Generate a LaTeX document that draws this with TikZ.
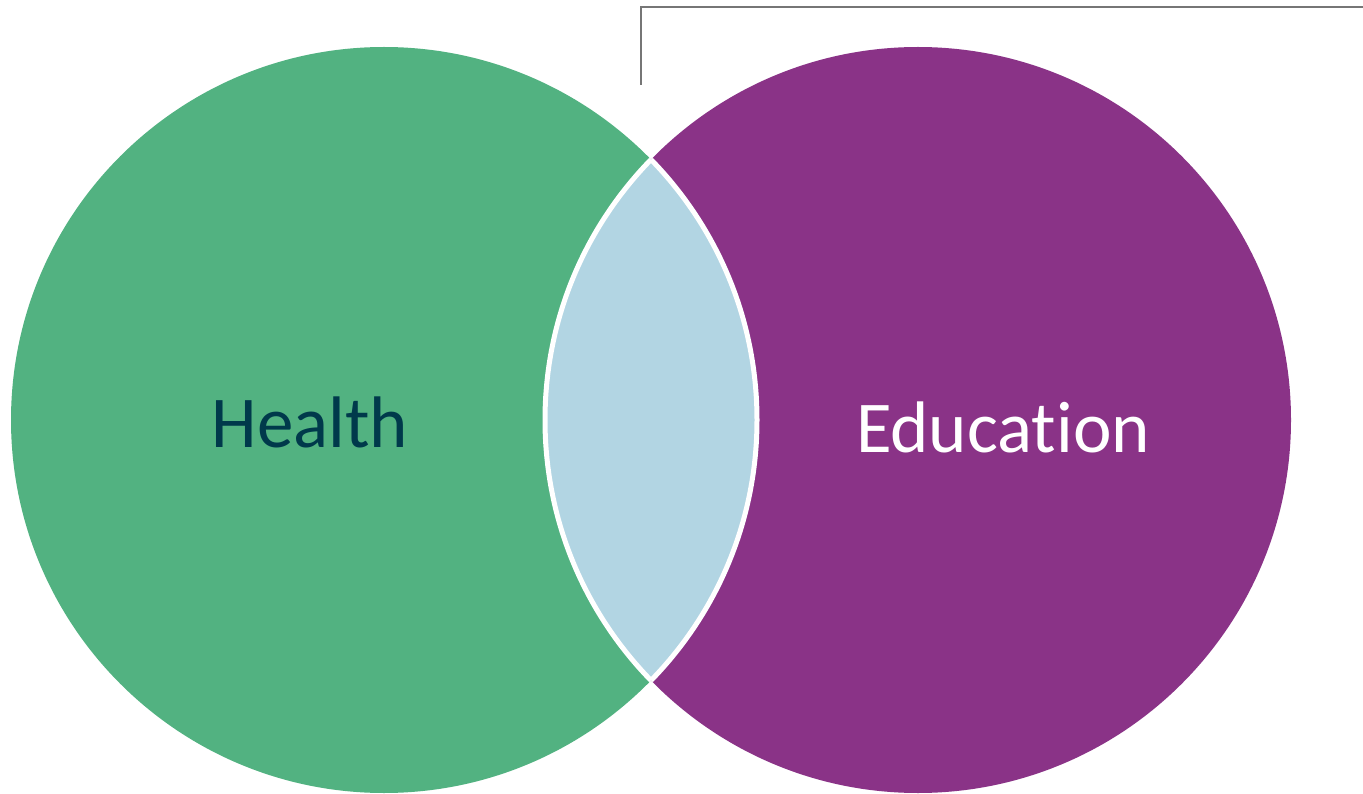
\documentclass[tikz,border=0pt]{standalone}
\usepackage{fontspec}
\setmainfont[Ligatures=NoCommon]{Carlito}
\usepackage{tikz}

\definecolor{healthgreen}{HTML}{52B281}
\definecolor{edupurple}{HTML}{8A3387}
\definecolor{lensblue}{HTML}{B2D5E3}
\definecolor{healthtext}{HTML}{00394B}
\definecolor{framegray}{HTML}{767676}

\begin{document}
\begin{tikzpicture}[x=1pt,y=-1pt]
\useasboundingbox (0,0) rectangle (1363,794);
\pgfmathsetmacro{\rad}{373}
\fill[healthgreen] (384,420) circle (\rad);
\fill[edupurple] (918,420) circle (\rad);
\begin{scope}
\clip (384,420) circle (\rad);
\fill[lensblue] (918,420) circle (\rad);
\end{scope}
\begin{scope}
\clip (384,420) circle (\rad);
\draw[white, line width=5pt] (918,420) circle (\rad);
\end{scope}
\begin{scope}
\clip (918,420) circle (\rad);
\draw[white, line width=5pt] (384,420) circle (\rad);
\end{scope}
\node (health) at (310,422) {\fontsize{73}{78}\selectfont\color{healthtext}Health};
\node (education) at (1003,427) {\fontsize{73}{78}\selectfont\color{white}Education};

\coordinate (tick) at (641,85);
\coordinate (corner) at (641,7);
\coordinate (edge) at (1363,7);
\draw[framegray, line width=1.5pt] (tick)--(corner)--(edge);
\end{tikzpicture}
\end{document}
